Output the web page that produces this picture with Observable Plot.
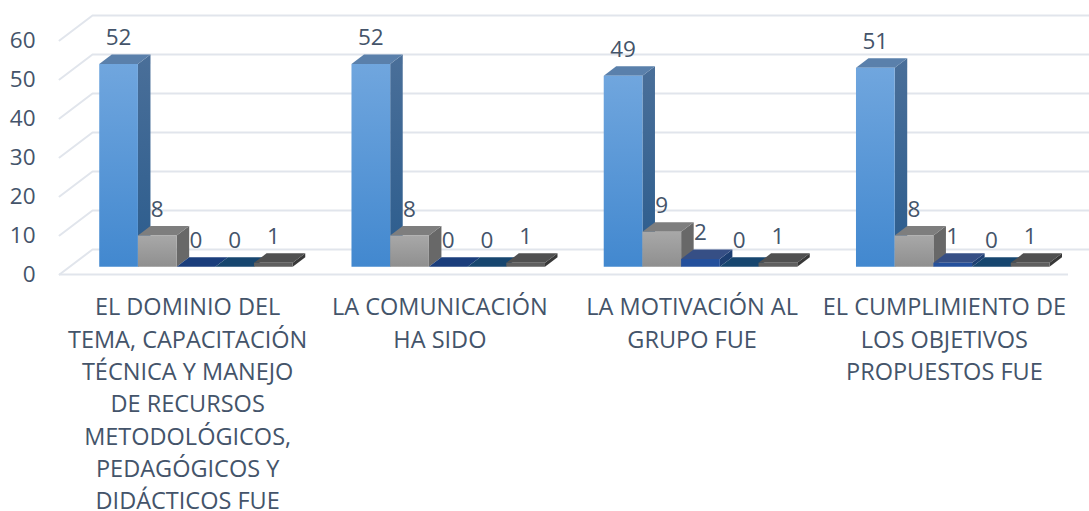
<!DOCTYPE html>
<html><head><meta charset="utf-8">
<script src="https://cdn.jsdelivr.net/npm/d3@7"></script>
<script src="https://cdn.jsdelivr.net/npm/@observablehq/plot@0.6"></script>
<style>html,body{margin:0;padding:0;background:#fff;overflow:hidden}svg{display:block}</style>
</head><body><div id="chart"></div>
<script>
const categories = [
  "EL DOMINIO DEL\nTEMA, CAPACITACIÓN\nTÉCNICA Y MANEJO\nDE RECURSOS\nMETODOLÓGICOS,\nPEDAGÓGICOS Y\nDIDÁCTICOS FUE",
  "LA COMUNICACIÓN\nHA SIDO",
  "LA MOTIVACIÓN AL\nGRUPO FUE",
  "EL CUMPLIMIENTO DE\nLOS OBJETIVOS\nPROPUESTOS FUE"
];
const series1 = [52, 52, 49, 51];
const series2 = [8, 8, 9, 8];
const series3 = [0, 0, 2, 1];
const series4 = [0, 0, 0, 0];
const series5 = [1, 1, 1, 1];
const allSeries = [series1, series2, series3, series4, series5];
const yTicks = [0, 10, 20, 30, 40, 50, 60];
const frontGrad = ["url(#f0)", "url(#f1)", "#24509c", "#1b4c80", "#5f5f5f"];
const sideFill = ["url(#s0)", "#686868", "#1d3f72", "#17466f", "#383838"];
const topFill = ["#5a80ab", "#7e7e7e", "#364f85", "#17466f", "#505050"];
const zeroFill = ["#5a80ab", "#7e7e7e", "#1b3e7c", "#17466f", "#505050"];

// oblique projection, in data units
const pitch = 252.25;
const floorDx = 33 / pitch, floorDy = 25 / 3.9;
const barW = 38.7 / pitch;
const barStart = 29.5 / pitch;
const dNear = 0.31, dFar = 0.69;
const px = (x, d) => x + d * floorDx;
const py = (v, d) => v + d * floorDy;

const poly = pts => pts.map(([x, y]) => ({x, y}));
const marks = [];

// gradient definitions
marks.push(() => {
  const s = d3.create("svg:g");
  const defs = s.append("defs");
  const grad = (id, a, b) => {
    const g = defs.append("linearGradient").attr("id", id).attr("x1", 0).attr("y1", 0).attr("x2", 0).attr("y2", 1);
    g.append("stop").attr("offset", "0%").attr("stop-color", a);
    g.append("stop").attr("offset", "100%").attr("stop-color", b);
  };
  grad("f0", "#70a6de", "#4288cf");
  grad("s0", "#4a6f99", "#2b5c8d");
  grad("f1", "#a8a8a8", "#8f8f8f");
  return s.node();
});

// walls: each gridline runs along the side wall then along the back wall
for (const t of yTicks) {
  marks.push(Plot.line(poly([[0, t], [px(0, 1), py(t, 1)], [px(4, 1), py(t, 1)]]), {
    x: "x", y: "y", stroke: "#e1e5ec", strokeWidth: 2
  }));
}
marks.push(Plot.ruleY([0], {x1: 0, x2: 4, stroke: "#e1e5ec", strokeWidth: 2}));

// bars, left to right so that each front hides the previous side
categories.forEach((c, i) => {
  allSeries.forEach((vals, k) => {
    const v = vals[i];
    const x0 = i + barStart + k * barW, x1 = x0 + barW;
    const face = (pts, fill) => marks.push(Plot.line(poly(pts), {x: "x", y: "y", fill, stroke: "none"}));
    if (v > 0) face([[px(x1, dNear), py(0, dNear)], [px(x1, dFar), py(0, dFar)], [px(x1, dFar), py(v, dFar)], [px(x1, dNear), py(v, dNear)]], sideFill[k]);
    face([[px(x0, dNear), py(v, dNear)], [px(x1, dNear), py(v, dNear)], [px(x1, dFar), py(v, dFar)], [px(x0, dFar), py(v, dFar)]], v > 0 ? topFill[k] : zeroFill[k]);
    if (v > 0) face([[px(x0, dNear), py(0, dNear)], [px(x1, dNear), py(0, dNear)], [px(x1, dNear), py(v, dNear)], [px(x0, dNear), py(v, dNear)]], frontGrad[k]);
  });
});

// value labels
const labelRows = [];
categories.forEach((c, i) => allSeries.forEach((vals, k) => labelRows.push({
  x: px(i + barStart + (k + 0.5) * barW, dNear), y: py(vals[i], dNear), v: vals[i]
})));
marks.push(Plot.text(labelRows, {x: "x", y: "y", text: d => String(d.v), dy: -26, fontSize: 22.5, fill: "#44546a"}));

// category labels
marks.push(Plot.text(categories, {
  x: (d, i) => i + 0.5, y: () => 0, text: d => d, lineAnchor: "top", lineHeight: 1.375,
  dx: 2, dy: 18, fontSize: 23.5, fill: "#44546a"
}));

marks.push(Plot.axisY(yTicks, {anchor: "left", tickSize: 0, tickPadding: 24, fontSize: 22.5, color: "#44546a", label: null}));

const chart = Plot.plot({
  width: 1089, height: 511,
  marginLeft: 59, marginRight: 21, marginTop: 40, marginBottom: 237,
  style: {fontFamily: "'Open Sans', sans-serif", background: "#fff", color: "#44546a", overflow: "hidden"},
  x: {domain: [0, 4], axis: null},
  y: {domain: [0, 60], axis: null},
  marks
});
document.getElementById("chart").appendChild(chart);
</script></body></html>
